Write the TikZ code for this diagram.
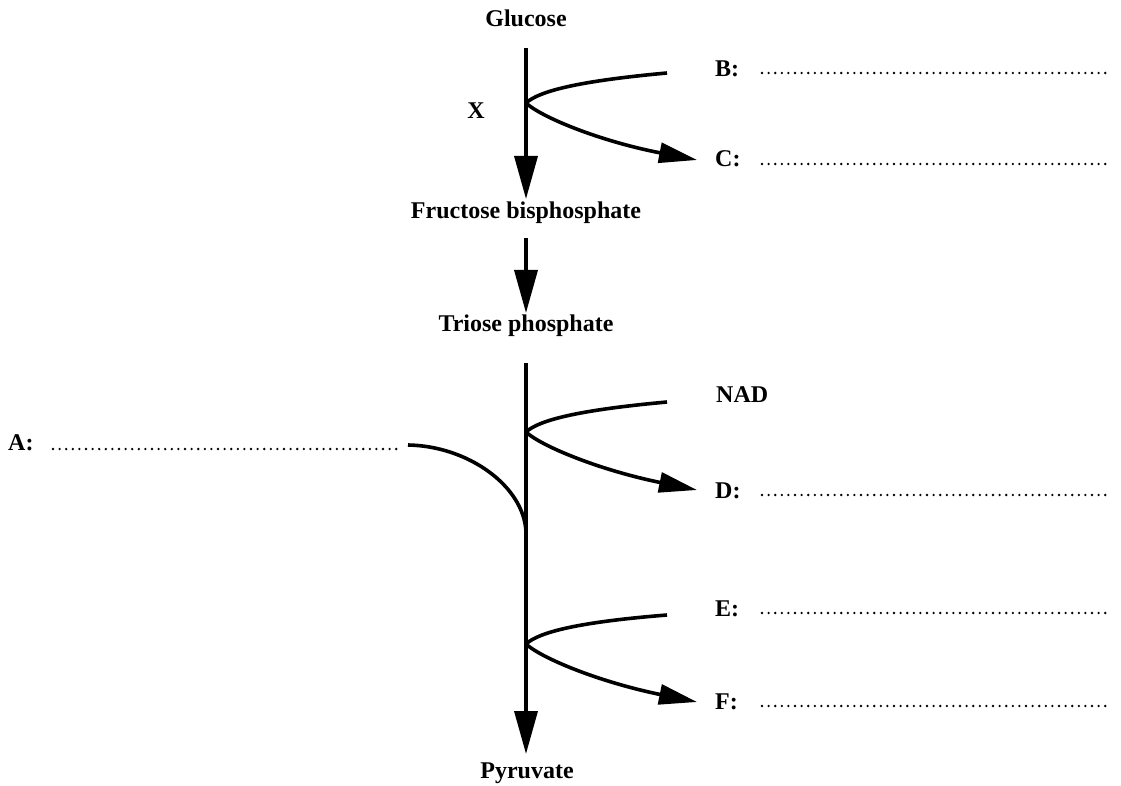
\documentclass[tikz,border=0pt]{standalone}
\usepackage{fontspec}
\setmainfont{Liberation Serif}
\usetikzlibrary{arrows.meta}
\begin{document}
\begin{tikzpicture}[x=1pt,y=-1pt,
  lbl/.style={font=\fontsize{24}{28}\selectfont\bfseries, inner sep=0pt},
  path/.style={line width=3.6pt},
  bigarrow/.style={line width=3.6pt, -{Triangle[length=43pt,width=23pt]}},
  smallarrow/.style={line width=3.6pt, -{Triangle[length=38pt,width=20pt]}},
  dotline/.style={line width=2.6pt, line cap=round, dash pattern=on 0pt off 6.6pt}
]
\useasboundingbox (0,0) rectangle (1121,786);
% labels
\node[lbl] (glu) at (526,18) {Glucose};
\node[lbl] (fbp) at (526,213) {Fructose bisphosphate};
\node[lbl] (tp) at (526,326) {Triose phosphate};
\node[lbl] (pyr) at (527,773) {Pyruvate};
\node[lbl] (x) at (476,111) {X};
\node[lbl, anchor=west] (b) at (715,69) {B:};
\node[lbl, anchor=west] (c) at (715,159) {C:};
\node[lbl, anchor=west] (nad) at (716,395) {NAD};
\node[lbl, anchor=west] (d) at (715,491) {D:};
\node[lbl, anchor=west] (e) at (715,609) {E:};
\node[lbl, anchor=west] (f) at (715,702) {F:};
\node[lbl, anchor=west] (a) at (8,443) {A:};
% coordinates
\coordinate (v1s) at (526,48);
\coordinate (v1e) at (526,199);
\coordinate (v2s) at (526,238);
\coordinate (v2e) at (526,313);
\coordinate (v3s) at (526,363);
\coordinate (v3e) at (526,754);
\coordinate (br1) at (526,103);
\coordinate (bt1) at (667,73);
\coordinate (bc1) at (697,160);
\coordinate (br2) at (526,432);
\coordinate (bt2) at (667,402);
\coordinate (bc2) at (697,490);
\coordinate (br3) at (526,644);
\coordinate (bt3) at (667,615);
\coordinate (bc3) at (697,702);
\coordinate (as) at (408,445);
\coordinate (ae) at (526,532);
% main arrows
\draw[bigarrow] (v1s) -- (v1e);
\draw[bigarrow] (v2s) -- (v2e);
\draw[bigarrow] (v3s) -- (v3e);
% branches
\draw[path] (br1) .. controls (539,91) and (579,81) .. (bt1);
\draw[smallarrow] (br1) .. controls (541,117) and (599,141) .. (bc1);
\draw[path] (br2) .. controls (539,420) and (579,410) .. (bt2);
\draw[smallarrow] (br2) .. controls (541,446) and (599,470) .. (bc2);
\draw[path] (br3) .. controls (539,632) and (579,622) .. (bt3);
\draw[smallarrow] (br3) .. controls (541,658) and (599,682) .. (bc3);
\draw[path] (as) .. controls (468,446) and (524,486) .. (ae);
% answer lines
\coordinate (bd1) at (762,73); \coordinate (bd2) at (1108,73);
\coordinate (cd1) at (762,164); \coordinate (cd2) at (1108,164);
\coordinate (dd1) at (762,495); \coordinate (dd2) at (1108,495);
\coordinate (ed1) at (762,613); \coordinate (ed2) at (1108,613);
\coordinate (fd1) at (762,706); \coordinate (fd2) at (1108,706);
\coordinate (ad1) at (53,449); \coordinate (ad2) at (397,449);
\draw[dotline] (bd1) -- (bd2);
\draw[dotline] (cd1) -- (cd2);
\draw[dotline] (dd1) -- (dd2);
\draw[dotline] (ed1) -- (ed2);
\draw[dotline] (fd1) -- (fd2);
\draw[dotline] (ad1) -- (ad2);
\end{tikzpicture}
\end{document}
